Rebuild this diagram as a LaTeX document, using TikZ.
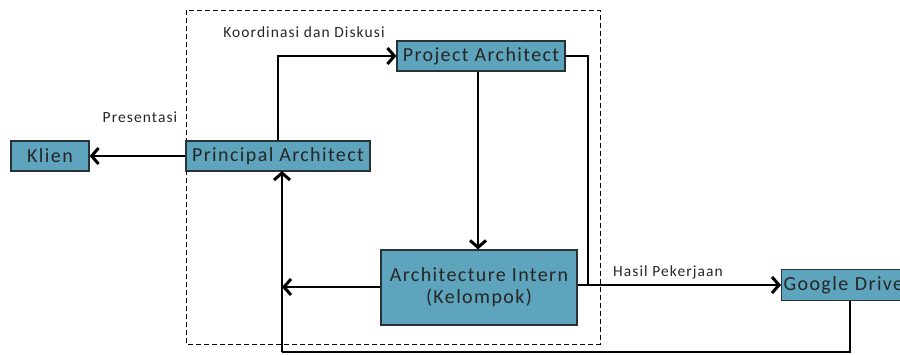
\documentclass[tikz,border=0pt]{standalone}
\usepackage{fontspec}
\setmainfont[LetterSpace=7]{Carlito}
\usetikzlibrary{arrows.meta}
\definecolor{boxfill}{RGB}{93,164,188}
\definecolor{boxline}{RGB}{40,50,55}
\tikzset{
  blk/.style={draw=boxline,line width=1.2pt,fill=boxfill,inner sep=0pt,anchor=center,font=\fontsize{20}{22}\selectfont,text=black!85},
  conn/.style={line width=2.8pt,draw=black},
  arr/.style={conn,-{Straight Barb[length=7pt,width=16pt,line width=3pt]}},
  lbl/.style={font=\fontsize{15.5}{17}\selectfont,text=black!85,inner sep=0pt},
}
\begin{document}
\begin{tikzpicture}[x=1pt,y=-1pt]
\useasboundingbox (0,0) rectangle (900,354);
\draw[dashed,line width=1pt,dash pattern=on 5pt off 3pt] (186,10) rectangle (600,344);
\node[blk,minimum width=168pt,minimum height=30pt] (pa) at (481,56) {Project Architect};
\node[blk,minimum width=184pt,minimum height=30pt] (pr) at (278,156) {Principal Architect};
\node[blk,minimum width=78pt,minimum height=30pt] (kl) at (50,156) {Klien};
\node[blk,minimum width=196pt,minimum height=75pt,align=center,font=\fontsize{20}{22}\selectfont] (ai) at (479,287.5) {Architecture Intern\\(Kelompok)};
\node[blk,minimum width=130pt,minimum height=31pt,anchor=west,text width=126pt,align=left] (gd) at (781,285) {Google Drive};
\coordinate (c1) at (278,56);
\coordinate (c2) at (588,56);
\coordinate (c3) at (588,285);
\coordinate (c4) at (282,287);
\coordinate (c5) at (850,352);
\coordinate (c6) at (282,352);
\coordinate (pb) at (282,171);
\draw[arr] (pr.north -| c1) -- (c1) -- (pa.west);
\draw[conn] (pa.east) -- (c2) -- (c3);
\draw[arr] (pa.south -| 478,0) -- (ai.north -| 478,0);
\draw[arr] (ai.east |- c3) -- (gd.west);
\draw[arr] (ai.west |- c4) -- (c4);
\draw[arr] (pr.west) -- (kl.east);
\draw[conn] (gd.south -| c5) -- (c5) -- (c6);
\draw[arr] (c6) -- (pb);
\node[lbl] (l1) at (304,32) {Koordinasi dan Diskusi};
\node[lbl] (l2) at (140,117) {Presentasi};
\node[lbl] (l3) at (668,272) {Hasil Pekerjaan};
\end{tikzpicture}
\end{document}
